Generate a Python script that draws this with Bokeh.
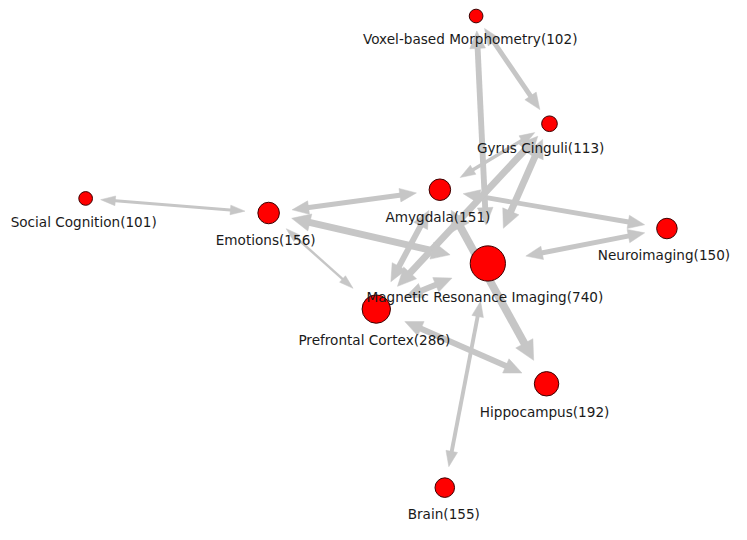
import math
from bokeh.plotting import figure
from bokeh.models import Range1d, ColumnDataSource
from bokeh.embed import file_html
from bokeh.resources import INLINE
from bokeh.core.properties import value

# ---------------- data ----------------
node_names = ["Voxel-based Morphometry", "Gyrus Cinguli", "Social Cognition", "Emotions",
              "Amygdala", "Neuroimaging", "Magnetic Resonance Imaging", "Prefrontal Cortex",
              "Hippocampus", "Brain"]
node_counts = [102, 113, 101, 156, 151, 150, 740, 286, 192, 155]

# graph layout (network layout coordinates)
layout_x = [486, 561, 87, 274, 449, 681, 498, 384, 558, 454]
layout_y = [16, 127, 204, 219, 195, 235, 271, 318, 395, 502]

edge_source = ["Social Cognition", "Emotions", "Emotions", "Emotions", "Amygdala",
               "Neuroimaging", "Voxel-based Morphometry", "Voxel-based Morphometry",
               "Gyrus Cinguli", "Gyrus Cinguli", "Gyrus Cinguli", "Amygdala", "Amygdala",
               "Prefrontal Cortex", "Prefrontal Cortex", "Magnetic Resonance Imaging"]
edge_target = ["Emotions", "Amygdala", "Magnetic Resonance Imaging", "Prefrontal Cortex",
               "Neuroimaging", "Magnetic Resonance Imaging", "Gyrus Cinguli",
               "Magnetic Resonance Imaging", "Magnetic Resonance Imaging", "Amygdala",
               "Prefrontal Cortex", "Prefrontal Cortex", "Hippocampus",
               "Magnetic Resonance Imaging", "Hippocampus", "Brain"]
edge_weight = [3, 5, 7, 2.5, 5, 5, 5, 6, 7, 3.5, 7, 6, 8, 6, 6, 4]

# ---------------- styles ----------------
node_radius = [7, 8, 7, 11, 11, 10.5, 18, 14.5, 12.5, 10]
label_dx = [-6, -9, -2, -3, -2, -3, -3, -2, -2, -1]
EDGE_COLOR = "#c6c6c6"
NODE_FILL = "#ff0000"
NODE_LINE = "#3a0000"
TEXT_COLOR = "#1a1a1a"
W, H_ = 731, 524
SCALE = W / 747.0

idx = {n: i for i, n in enumerate(node_names)}

seg = dict(x0=[], y0=[], x1=[], y1=[], w=[])
heads = dict(xs=[], ys=[])

for s_name, t_name, w in zip(edge_source, edge_target, edge_weight):
    s, t = idx[s_name], idx[t_name]
    xs, ys = layout_x[s], layout_y[s]
    xt, yt = layout_x[t], layout_y[t]
    dx, dy = xt - xs, yt - ys
    d = math.hypot(dx, dy)
    ux, uy = dx / d, dy / d
    px, py = -uy, ux
    L = w + 12
    Hh = w + 2
    gs = 2.2 * node_radius[s]
    gt = 2.2 * node_radius[t]
    tip_t = (xt - ux * gt, yt - uy * gt)
    tip_s = (xs + ux * gs, ys + uy * gs)
    bt = (tip_t[0] - ux * L, tip_t[1] - uy * L)
    heads["xs"].append([tip_t[0], bt[0] + px * Hh, bt[0] - px * Hh])
    heads["ys"].append([tip_t[1], bt[1] + py * Hh, bt[1] - py * Hh])
    bs = (tip_s[0] + ux * L, tip_s[1] + uy * L)
    heads["xs"].append([tip_s[0], bs[0] + px * Hh, bs[0] - px * Hh])
    heads["ys"].append([tip_s[1], bs[1] + py * Hh, bs[1] - py * Hh])
    seg["x0"].append(tip_s[0] + ux * L * 0.8)
    seg["y0"].append(tip_s[1] + uy * L * 0.8)
    seg["x1"].append(tip_t[0] - ux * L * 0.8)
    seg["y1"].append(tip_t[1] - uy * L * 0.8)
    seg["w"].append(w * SCALE)

p = figure(width=W, height=H_, output_backend="svg", toolbar_location=None,
           x_range=Range1d(0, 747), y_range=Range1d(540, 0),
           x_axis_location=None, y_axis_location=None, min_border=0,
           background_fill_color="white", border_fill_color="white")
p.outline_line_color = None
p.xgrid.visible = False
p.ygrid.visible = False

p.segment(x0="x0", y0="y0", x1="x1", y1="y1", line_width="w", line_color=EDGE_COLOR,
          line_cap="butt", source=ColumnDataSource(seg))
p.patches(xs="xs", ys="ys", fill_color=EDGE_COLOR, line_color=EDGE_COLOR, line_width=0.5,
          source=ColumnDataSource(heads))

nodes = ColumnDataSource(dict(
    x=layout_x, y=layout_y, size=[2 * r * SCALE for r in node_radius],
    lx=[x + dxl for x, dxl in zip(layout_x, label_dx)],
    ly=[y + r + 17 for y, r in zip(layout_y, node_radius)],
    label=[f"{n}({c})" for n, c in zip(node_names, node_counts)],
))
p.scatter(x="x", y="y", size="size", marker="circle", fill_color=NODE_FILL,
          line_color=NODE_LINE, line_width=1, source=nodes)
p.text(x="lx", y="ly", text="label", text_font=value("DejaVu Sans"),
       text_font_size="13.6px", text_color=TEXT_COLOR, text_align="center",
       text_baseline="middle", source=nodes)

open("out.html", "w").write(file_html(p, INLINE))
